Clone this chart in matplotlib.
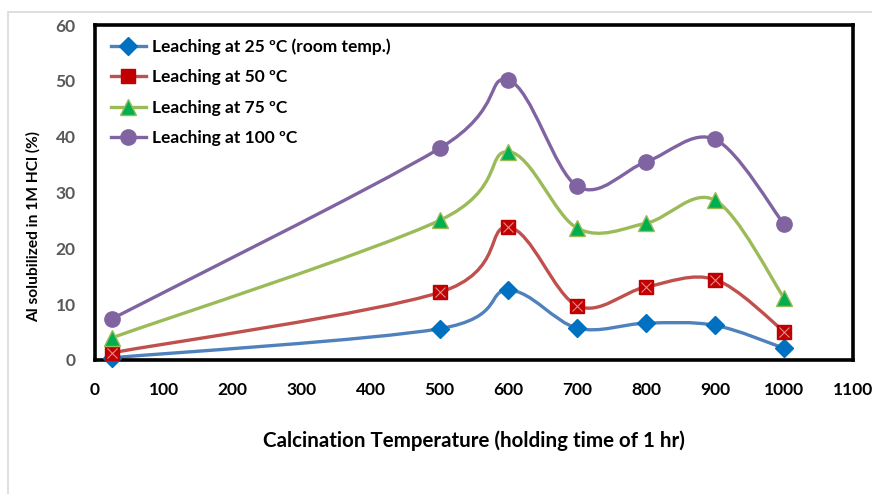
import matplotlib
matplotlib.use("Agg")
import matplotlib.pyplot as plt
import numpy as np
from matplotlib.path import Path
from matplotlib.patches import PathPatch, Rectangle

# ── Data ─────────────────────────────────────────────────────────────────────
calc_temp = [25, 500, 600, 700, 800, 900, 1000]
al_25 = [0.4, 5.6, 12.5, 5.7, 6.6, 6.2, 2.1]
al_50 = [1.3, 12.1, 23.8, 9.7, 13.1, 14.4, 5.1]
al_75 = [4.0, 25.0, 37.3, 23.6, 24.5, 28.6, 11.1]
al_100 = [7.4, 37.9, 50.1, 31.1, 35.5, 39.5, 24.3]

labels = ["Leaching at 25 ºC (room temp.)", "Leaching at 50 ºC",
          "Leaching at 75 ºC", "Leaching at 100 ºC"]
x_ticks = list(range(0, 1101, 100))
y_ticks = list(range(0, 61, 10))

plt.rcParams["font.family"] = ["Lato", "DejaVu Sans"]
plt.rcParams["font.weight"] = "bold"


def smooth_path(xs, ys):
    """Excel-like smoothed line as cubic Bezier segments (Catmull-Rom)."""
    pts = np.column_stack([xs, ys]).astype(float)
    ext = np.vstack([pts[0], pts, pts[-1]])
    verts = [tuple(pts[0])]
    codes = [Path.MOVETO]
    for i in range(1, len(ext) - 2):
        p0, p1, p2, p3 = ext[i - 1], ext[i], ext[i + 1], ext[i + 2]
        c1 = p1 + (p2 - p0) / 6.0
        c2 = p2 - (p3 - p1) / 6.0
        verts += [tuple(c1), tuple(c2), tuple(p2)]
        codes += [Path.CURVE4] * 3
    return Path(verts, codes)


fig = plt.figure(figsize=(8.72, 4.94), dpi=100)
fig.patches.append(Rectangle((8 / 872, -0.1), 1.1, 1.1 - 12 / 494,
                             transform=fig.transFigure, fill=False,
                             edgecolor="#d9d9d9", lw=1.2))
ax = fig.add_axes([95 / 872, 1 - 360 / 494, (853 - 95) / 872, (360 - 25) / 494])

series = [
    (al_25, "#4f81bd", dict(marker="D", ms=9, mfc="#0070c0", mec="#0070c0")),
    (al_50, "#c0504d", dict(marker="s", ms=10.5, mfc="#c00000", mec="#c00000")),
    (al_75, "#9bbb59", dict(marker="^", ms=11, mfc="#00b050", mec="#9bbb59")),
    (al_100, "#8064a2", dict(marker="o", ms=11, mfc="#8064a2", mec="#8064a2")),
]

for (vals, color, mk), label in zip(series, labels):
    ax.add_patch(PathPatch(smooth_path(calc_temp, vals), fill=False,
                           edgecolor=color, lw=2.4, zorder=2))
    ax.plot(calc_temp, vals, ls="none", clip_on=False, zorder=3, **mk)
    # legend handle: line + marker
    ax.plot([], [], color=color, lw=2.4, label=label, **mk)
    if mk["marker"] == "s":
        ax.plot(calc_temp, vals, ls="none", marker="x", ms=7, mew=0.8,
                color="#e08c8c", clip_on=False, zorder=4)

ax.set_xlim(0, 1100)
ax.set_ylim(0, 60)
ax.set_xticks(x_ticks)
ax.set_yticks(y_ticks)
ax.tick_params(axis="both", length=0, labelsize=12.5)
ax.tick_params(axis="x", pad=16, labelcolor="black")
ax.tick_params(axis="y", pad=14, labelcolor="#595959")
for lab in ax.get_xticklabels() + ax.get_yticklabels():
    lab.set_fontweight("bold")
for sp in ax.spines.values():
    sp.set_linewidth(2.6)
    sp.set_color("black")

ax.set_xlabel("Calcination Temperature (holding time of 1 hr)",
              fontsize=14.8, fontweight="bold")
ax.xaxis.set_label_coords(0.5, -0.21)
ax.set_ylabel("Al solubilized in 1M HCl (%)", fontsize=11.2,
              fontweight="bold")
ax.yaxis.set_label_coords(-0.072, 0.40)

leg = ax.legend(loc="upper left", frameon=False, fontsize=12.5,
                handlelength=2.0, handletextpad=0.35, labelspacing=0.82,
                borderaxespad=0.0, bbox_to_anchor=(0.012, 0.98))
for t in leg.get_texts():
    t.set_fontweight("bold")

fig.savefig("out.png", dpi=100)
